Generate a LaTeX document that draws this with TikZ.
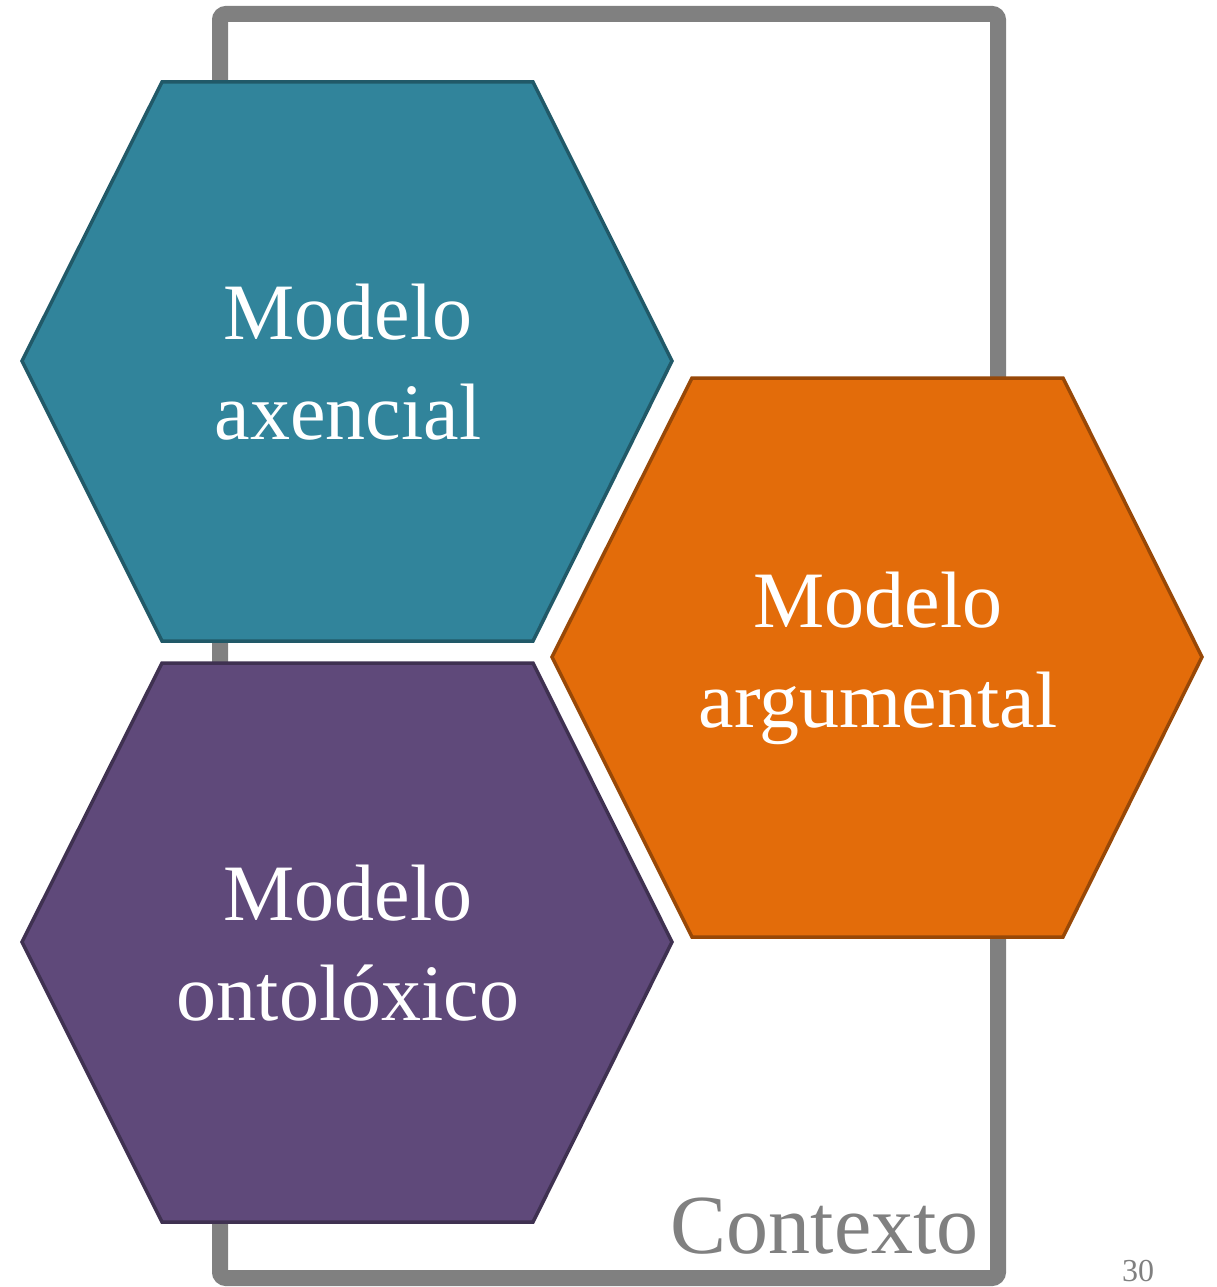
\documentclass[tikz,border=0pt]{standalone}
\usepackage{fontspec}
\setmainfont{Liberation Serif}
\usetikzlibrary{calc}

\definecolor{axefill}{HTML}{31849B}
\definecolor{axeline}{HTML}{215968}
\definecolor{argfill}{HTML}{E36C0A}
\definecolor{argline}{HTML}{984807}
\definecolor{ontfill}{HTML}{5F497A}
\definecolor{ontline}{HTML}{3F3151}
\definecolor{framegray}{HTML}{808080}

\tikzset{
  frame/.style={draw=framegray, line width=16pt, rounded corners=6pt},
  hexa/.style={line width=3.5pt, line join=miter},
  label/.style={text=white, align=center, font=\fontsize{80}{100}\selectfont},
  ctx/.style={text=framegray, font=\fontsize{84}{100}\selectfont, inner sep=0pt},
  num/.style={text=framegray, font=\fontsize{32}{36}\selectfont, inner sep=0pt}
}

\begin{document}
\begin{tikzpicture}[x=1pt,y=-1pt]
\useasboundingbox (0,0) rectangle (1217,1287);

% context frame
\draw[frame] (220,14) rectangle (998,1278);
\node[ctx, anchor=base east] (contexto) at (979,1253) {Contexto};

% hexagons
\foreach \cx/\cy/\fc/\dc in {347/361/axefill/axeline, 347/942/ontfill/ontline, 877/657/argfill/argline}
  \filldraw[hexa, fill=\fc, draw=\dc] (\cx-325,\cy) -- ++(140,-279) -- ++(371,0) -- ++(139,279) -- ++(-139,280) -- ++(-371,0) -- cycle;

\node[label] (axencial) at (348,362) {Modelo\\axencial};
\node[label] (ontoloxico) at (348,943) {Modelo\\ontolóxico};
\node[label] (argumental) at (878,658) {Modelo\\argumental};

\node[num, anchor=base] (paxina) at (1138,1281) {30};
\end{tikzpicture}
\end{document}
